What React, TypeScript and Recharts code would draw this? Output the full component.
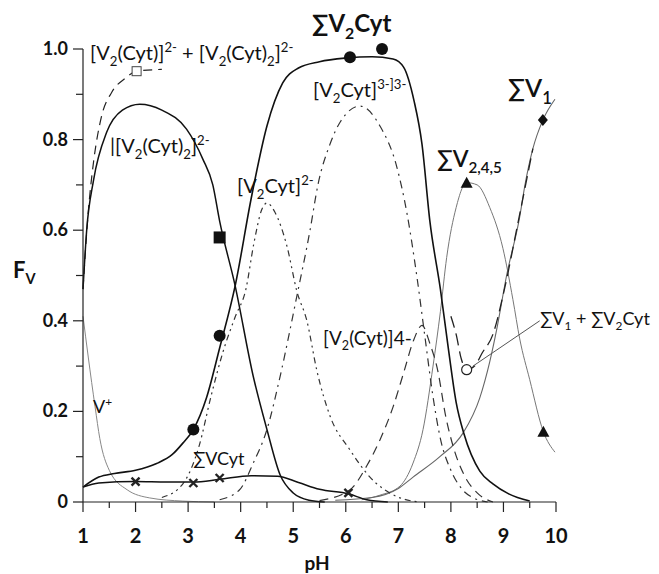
import React from 'react';
import {
  ComposedChart,
  Line,
  Scatter,
  XAxis,
  YAxis,
  ReferenceLine,
} from 'recharts';

// pH ticks (majors labelled, halves unlabelled)
const xTicks = [1, 1.5, 2, 2.5, 3, 3.5, 4, 4.5, 5, 5.5, 6, 6.5, 7, 7.5, 8, 8.5, 9, 9.5, 10];
const yTicks = [0, 0.1, 0.2, 0.3, 0.4, 0.5, 0.6, 0.7, 0.8, 0.9, 1.0];

// ∑V2Cyt
const sumV2CytPH = [1, 1.3, 1.6, 2, 2.4, 2.7, 2.9, 3.1, 3.35, 3.6, 3.9, 4.2, 4.5, 4.8, 5.1, 5.5, 6, 6.5, 6.9, 7.1, 7.3, 7.45, 7.6, 7.8, 7.95, 8.1, 8.25, 8.55, 8.8, 9.1, 9.5];
const sumV2CytF = [0.033, 0.055, 0.063, 0.07, 0.085, 0.105, 0.13, 0.16, 0.23, 0.34, 0.48, 0.67, 0.83, 0.925, 0.958, 0.972, 0.98, 0.983, 0.978, 0.96, 0.885, 0.79, 0.62, 0.47, 0.34, 0.22, 0.15, 0.068, 0.04, 0.018, 0.002];

// [V2(Cyt)2]2-
const dimer2PH = [1, 1.07, 1.2, 1.45, 1.75, 2.08, 2.5, 2.97, 3.28, 3.47, 3.6, 3.89, 4.24, 4.5, 4.75, 5.0, 5.3, 5.6];
const dimer2F = [0.47, 0.6, 0.71, 0.816, 0.865, 0.878, 0.865, 0.823, 0.757, 0.7, 0.62, 0.48, 0.277, 0.16, 0.06, 0.02, 0.004, 0];

// [V2(Cyt)]2- + [V2(Cyt)2]2-
const dimerSumPH = [1, 1.1, 1.2, 1.35, 1.55, 1.8, 2.02, 2.5];
const dimerSumF = [0.47, 0.64, 0.75, 0.85, 0.905, 0.935, 0.951, 0.955];

// V+
const vPlusPH = [1, 1.1, 1.23, 1.32, 1.5, 1.84, 2.27, 2.9, 3.5];
const vPlusF = [0.41, 0.32, 0.21, 0.14, 0.07, 0.027, 0.009, 0.002, 0];

// ∑VCyt
const sumVCytPH = [1, 1.3, 2, 2.6, 3.1, 3.6, 4.2, 4.7, 5.1, 5.5, 6.05, 6.4, 6.8];
const sumVCytF = [0.033, 0.042, 0.045, 0.044, 0.044, 0.05, 0.058, 0.057, 0.043, 0.028, 0.018, 0.005, 0];

// [V2Cyt]2-
const v2cyt2PH = [2.5, 2.9, 3.2, 3.45, 3.66, 3.9, 4.1, 4.25, 4.4, 4.5, 4.65, 4.88, 5.07, 5.26, 5.45, 5.7, 6.08, 6.46, 6.97, 7.4];
const v2cyt2F = [0.01, 0.04, 0.12, 0.24, 0.33, 0.41, 0.47, 0.57, 0.645, 0.66, 0.64, 0.565, 0.465, 0.4, 0.29, 0.19, 0.115, 0.055, 0.012, 0];

// [V2Cyt]3-
const v2cyt3PH = [3.6, 3.98, 4.24, 4.5, 4.75, 5.07, 5.32, 5.47, 5.7, 5.9, 6.27, 6.65, 6.97, 7.16, 7.35, 7.5, 7.65, 7.8, 8.0, 8.2, 8.45, 8.7];
const v2cyt3F = [0.005, 0.027, 0.086, 0.16, 0.277, 0.455, 0.6, 0.7, 0.79, 0.84, 0.874, 0.83, 0.74, 0.64, 0.5, 0.37, 0.24, 0.14, 0.07, 0.03, 0.008, 0];

// [V2(Cyt)]4-
const v2cyt4PH = [5.5, 6.08, 6.4, 6.65, 6.9, 7.1, 7.3, 7.45, 7.6, 7.75, 7.9, 8.05, 8.25, 8.5, 8.8];
const v2cyt4F = [0.003, 0.027, 0.08, 0.137, 0.21, 0.285, 0.36, 0.39, 0.35, 0.29, 0.19, 0.12, 0.06, 0.02, 0];

// ∑V2,4,5
const sumV245PH = [6.3, 6.65, 7.03, 7.28, 7.47, 7.66, 7.8, 7.92, 8.1, 8.3, 8.5, 8.74, 8.99, 9.18, 9.31, 9.5, 9.76, 9.98];
const sumV245F = [0.005, 0.015, 0.035, 0.086, 0.16, 0.3, 0.42, 0.54, 0.65, 0.705, 0.7, 0.65, 0.56, 0.447, 0.36, 0.27, 0.155, 0.11];

// ∑V1
const sumV1PH = [5.8, 6.5, 7.0, 7.28, 7.79, 8.23, 8.55, 8.74, 8.87, 9.06, 9.31, 9.41, 9.56, 9.75, 9.98];
const sumV1F = [0.004, 0.01, 0.03, 0.055, 0.1, 0.152, 0.23, 0.31, 0.38, 0.5, 0.63, 0.7, 0.78, 0.843, 0.889];

// ∑V1 + ∑V2Cyt
const sumV1V2PH = [8.0, 8.1, 8.2, 8.3, 8.45, 8.6, 8.8, 9.0, 9.3, 9.56];
const sumV1V2F = [0.41, 0.37, 0.315, 0.292, 0.3, 0.33, 0.37, 0.46, 0.63, 0.78];

// experimental points
const circlePH = [3.1, 3.6, 6.08, 6.69];
const circleF = [0.16, 0.367, 0.982, 1.0];
const crossPH = [2, 3.1, 3.6, 6.05];
const crossF = [0.045, 0.042, 0.053, 0.02];
const squarePH = [3.6];
const squareF = [0.584];
const openSquarePH = [2.02];
const openSquareF = [0.951];
const trianglePH = [8.3, 9.76];
const triangleF = [0.705, 0.155];
const diamondPH = [9.75];
const diamondF = [0.843];
const openCirclePH = [8.3];
const openCircleF = [0.292];

const pts = (xs: number[], ys: number[]) => xs.map((x, i) => ({ x, y: ys[i] }));

const FONT = 'Lato, "Open Sans", sans-serif';
const SYM = 'Lato, "DejaVu Sans", sans-serif';

const YTick = (props: any) => {
  const { x, y, payload } = props;
  const v = payload.value as number;
  const major = Math.round(v * 10) % 2 === 0;
  return (
    <g>
      <line x1={x - (major ? 10 : 7)} x2={x} y1={y} y2={y} stroke="#222" strokeWidth={1.2} />
      {major && (
        <text x={x - 15} y={y} dy={6} textAnchor="end" fontSize={18} fontWeight={700} fontFamily={FONT} fill="#111">
          {v === 0 ? '0' : v.toFixed(1)}
        </text>
      )}
    </g>
  );
};

const XTick = (props: any) => {
  const { x, y, payload } = props;
  const v = payload.value as number;
  const major = Number.isInteger(v);
  return (
    <g>
      <line x1={x} x2={x} y1={y} y2={y + (major ? 10 : 6)} stroke="#222" strokeWidth={1.2} />
      {major && (
        <text x={x} y={y} dy={41} textAnchor="middle" fontSize={20} fontWeight={700} fontFamily={FONT} fill="#111">
          {v}
        </text>
      )}
    </g>
  );
};

const dot = (kind: string) => (p: any) => {
  const { cx, cy } = p;
  if (cx == null || cy == null) return <g />;
  switch (kind) {
    case 'circle':
      return <circle cx={cx} cy={cy} r={6} fill="#111" />;
    case 'openCircle':
      return <circle cx={cx} cy={cy} r={5} fill="#fff" stroke="#222" strokeWidth={1.2} />;
    case 'square':
      return <rect x={cx - 6} y={cy - 6} width={12} height={12} fill="#111" />;
    case 'openSquare':
      return <rect x={cx - 4.5} y={cy - 4.5} width={9} height={9} fill="#fff" stroke="#444" strokeWidth={1} />;
    case 'triangle':
      return <path d={`M${cx},${cy - 6} L${cx + 6},${cy + 5} L${cx - 6},${cy + 5} Z`} fill="#111" />;
    case 'diamond':
      return <path d={`M${cx},${cy - 6} L${cx + 5},${cy} L${cx},${cy + 6} L${cx - 5},${cy} Z`} fill="#111" />;
    default:
      return (
        <g stroke="#222" strokeWidth={2.4}>
          <line x1={cx - 4} y1={cy - 4} x2={cx + 4} y2={cy + 4} />
          <line x1={cx - 4} y1={cy + 4} x2={cx + 4} y2={cy - 4} />
        </g>
      );
  }
};

type Part = [string, 'n' | 'b' | 'p'];

function Rich({ x, y, size, weight = 400, parts, family = SYM }: { x: number; y: number; size: number; weight?: number; parts: Part[]; family?: string }) {
  let off = 0;
  return (
    <text x={x} y={y} fontSize={size} fontWeight={weight} fontFamily={family} fill="#111">
      {parts.map(([t, k], i) => {
        const target = k === 'b' ? size * 0.28 : k === 'p' ? -size * 0.38 : 0;
        const dy = target - off;
        off = target;
        return (
          <tspan key={i} dy={dy} fontSize={k === 'n' ? size : size * 0.66}>
            {t}
          </tspan>
        );
      })}
    </text>
  );
}

export default function App() {
  return (
    <div style={{ position: 'absolute', left: 0, top: 0, width: 659, height: 574, background: '#fff' }}>
      <ComposedChart width={659} height={574} margin={{ top: 49, right: 103, left: 0, bottom: 0 }}>
        <XAxis
          dataKey="x"
          type="number"
          domain={[1, 10]}
          ticks={xTicks}
          interval={0}
          tickSize={0}
          tickMargin={0}
          tick={<XTick />}
          height={72}
          stroke="#222"
          strokeWidth={1.2}
        />
        <YAxis
          dataKey="y"
          type="number"
          domain={[0, 1]}
          ticks={yTicks}
          interval={0}
          tickSize={0}
          tickMargin={0}
          tick={<YTick />}
          width={83}
          stroke="#222"
          strokeWidth={1.2}
        />

        <Line data={pts(vPlusPH, vPlusF)} dataKey="y" type="monotone" stroke="#888" strokeWidth={1} dot={false} isAnimationActive={false} />
        <Line data={pts(sumV245PH, sumV245F)} dataKey="y" type="monotone" stroke="#777" strokeWidth={1} dot={false} isAnimationActive={false} />
        <Line data={pts(sumV1PH, sumV1F)} dataKey="y" type="monotone" stroke="#666" strokeWidth={1.1} dot={false} isAnimationActive={false} />
        <Line data={pts(v2cyt2PH, v2cyt2F)} dataKey="y" type="monotone" stroke="#333" strokeWidth={1.2} strokeDasharray="6 4 2 4 2 4" dot={false} isAnimationActive={false} />
        <Line data={pts(v2cyt3PH, v2cyt3F)} dataKey="y" type="monotone" stroke="#333" strokeWidth={1.2} strokeDasharray="8 5 2 5" dot={false} isAnimationActive={false} />
        <Line data={pts(v2cyt4PH, v2cyt4F)} dataKey="y" type="monotone" stroke="#333" strokeWidth={1.2} strokeDasharray="9 6" dot={false} isAnimationActive={false} />
        <Line data={pts(dimerSumPH, dimerSumF)} dataKey="y" type="monotone" stroke="#222" strokeWidth={1.2} strokeDasharray="9 6" dot={false} isAnimationActive={false} />
        <Line data={pts(sumV1V2PH, sumV1V2F)} dataKey="y" type="monotone" stroke="#222" strokeWidth={1.3} strokeDasharray="12 6" dot={false} isAnimationActive={false} />
        <Line data={pts(sumVCytPH, sumVCytF)} dataKey="y" type="monotone" stroke="#111" strokeWidth={1.5} dot={false} isAnimationActive={false} />
        <Line data={pts(dimer2PH, dimer2F)} dataKey="y" type="monotone" stroke="#111" strokeWidth={1.5} dot={false} isAnimationActive={false} />
        <Line data={pts(sumV2CytPH, sumV2CytF)} dataKey="y" type="monotone" stroke="#111" strokeWidth={1.6} dot={false} isAnimationActive={false} />

        <ReferenceLine segment={[{ x: 8.42, y: 0.3 }, { x: 9.69, y: 0.4 }]} stroke="#555" strokeWidth={1} ifOverflow="visible" />

        <Scatter data={pts(circlePH, circleF)} dataKey="y" shape={dot('circle')} isAnimationActive={false} />
        <Scatter data={pts(crossPH, crossF)} dataKey="y" shape={dot('cross')} isAnimationActive={false} />
        <Scatter data={pts(squarePH, squareF)} dataKey="y" shape={dot('square')} isAnimationActive={false} />
        <Scatter data={pts(openSquarePH, openSquareF)} dataKey="y" shape={dot('openSquare')} isAnimationActive={false} />
        <Scatter data={pts(trianglePH, triangleF)} dataKey="y" shape={dot('triangle')} isAnimationActive={false} />
        <Scatter data={pts(diamondPH, diamondF)} dataKey="y" shape={dot('diamond')} isAnimationActive={false} />
        <Scatter data={pts(openCirclePH, openCircleF)} dataKey="y" shape={dot('openCircle')} isAnimationActive={false} />
      </ComposedChart>

      <svg width={659} height={574} style={{ position: 'absolute', left: 0, top: 0, pointerEvents: 'none' }}>
        <Rich x={90} y={60} size={20} parts={[['[V', 'n'], ['2', 'b'], ['(Cyt)]', 'n'], ['2-', 'p'], [' + [V', 'n'], ['2', 'b'], ['(Cyt)', 'n'], ['2', 'b'], [']', 'n'], ['2-', 'p']]} />
        <Rich x={110} y={153} size={20} parts={[['|[V', 'n'], ['2', 'b'], ['(Cyt)', 'n'], ['2', 'b'], [']', 'n'], ['2-', 'p']]} />
        <Rich x={237} y={193} size={20} parts={[['[V', 'n'], ['2', 'b'], ['Cyt]', 'n'], ['2-', 'p']]} />
        <Rich x={312} y={32} size={24} weight={700} parts={[['∑V', 'n'], ['2', 'b'], ['Cyt', 'n']]} />
        <Rich x={313} y={97} size={20} parts={[['[V', 'n'], ['2', 'b'], ['Cyt]', 'n'], ['3-', 'p'], [']', 'p'], ['3-', 'p']]} />
        <Rich x={508} y={97} size={25} weight={600} parts={[['∑V', 'n'], ['1', 'b']]} />
        <Rich x={437} y={167} size={23} weight={600} parts={[['∑V', 'n'], ['2,4,5', 'b']]} />
        <Rich x={540} y={325} size={18} parts={[['∑V', 'n'], ['1', 'b'], [' + ∑V', 'n'], ['2', 'b'], ['Cyt', 'n']]} />
        <Rich x={323} y={345} size={19} parts={[['[V', 'n'], ['2', 'b'], ['(Cyt)]4-', 'n']]} />
        <Rich x={93} y={413} size={18} parts={[['V', 'n'], ['+', 'p']]} />
        <Rich x={193} y={465} size={18} parts={[['∑VCyt', 'n']]} />
        <Rich x={13} y={278} size={22} weight={700} family={FONT} parts={[['F', 'n'], ['V', 'b']]} />
        <text x={317} y={570} textAnchor="middle" fontSize={19} fontWeight={700} fontFamily={FONT} fill="#111">pH</text>
      </svg>
    </div>
  );
}
